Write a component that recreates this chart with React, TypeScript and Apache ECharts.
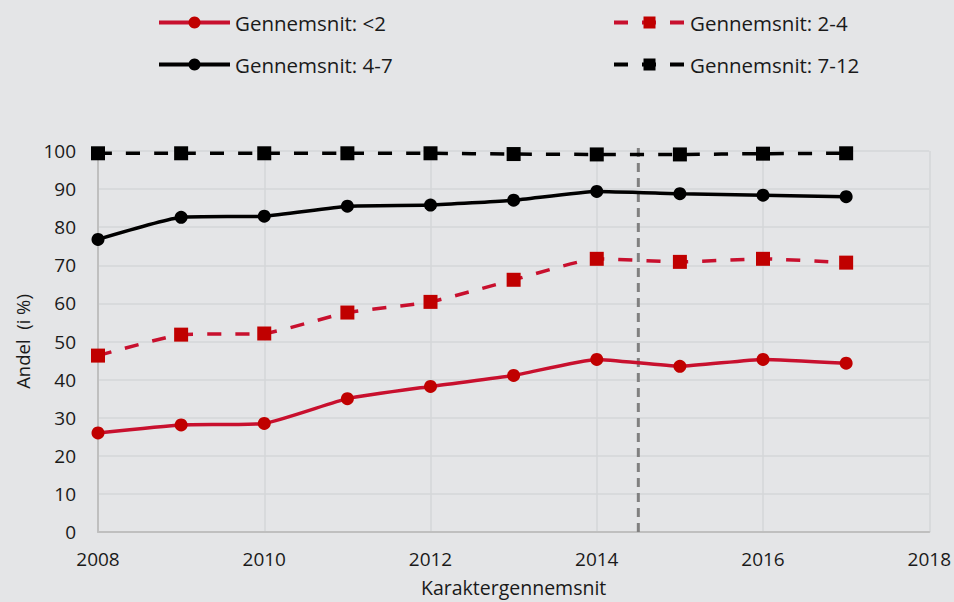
import React, { useEffect, useRef } from "react";
import * as echarts from "echarts";

const years = [2008, 2009, 2010, 2011, 2012, 2013, 2014, 2015, 2016, 2017];
const seriesNames = ["Gennemsnit: <2", "Gennemsnit: 2-4", "Gennemsnit: 4-7", "Gennemsnit: 7-12"];
const valsLt2 = [26.0, 28.1, 28.5, 35.0, 38.2, 41.1, 45.3, 43.5, 45.3, 44.3];
const vals2to4 = [46.3, 51.8, 52.1, 57.6, 60.4, 66.2, 71.7, 70.9, 71.7, 70.7];
const vals4to7 = [76.8, 82.6, 82.9, 85.5, 85.8, 87.1, 89.4, 88.8, 88.4, 88.0];
const vals7to12 = [99.4, 99.4, 99.4, 99.4, 99.4, 99.2, 99.1, 99.1, 99.3, 99.4];
const divider = [[2014.5, 0], [2014.5, 102]];

const FONT = "'Open Sans', 'Noto Sans', sans-serif";
const RED = "#c8102e";
const RED_M = "#c00000";
const BLACK = "#000000";
const TXT = "#1a1a1a";

export default function App() {
  const ref = useRef<HTMLDivElement>(null);
  useEffect(() => {
    if (!ref.current) return;
    const chart = echarts.init(ref.current, undefined, { renderer: "svg" });
    const pair = (vals: number[]) => years.map((y, i) => [y, vals[i]]);
    const mkLegend = (name: string, left: number, top: number) => ({
      data: [name],
      left,
      top,
      orient: "horizontal",
      itemWidth: 71,
      itemHeight: 15,
      itemGap: 0,
      padding: 0,
      lineStyle: { width: 4, inactiveWidth: 4 },
      textStyle: { fontFamily: FONT, fontSize: 20.5, color: TXT, padding: [0, 0, 0, 0] },
      selectedMode: false,
    });
    chart.setOption({
      animation: false,
      backgroundColor: "#e4e5e7",
      legend: [
        mkLegend(seriesNames[0], 157, 12),
        mkLegend(seriesNames[1], 612, 12),
        mkLegend(seriesNames[2], 157, 54),
        mkLegend(seriesNames[3], 612, 54),
      ],
      grid: { left: 98, right: 24, top: 151, bottom: 66, containLabel: false },
      xAxis: {
        type: "value",
        min: 2008,
        max: 2018,
        interval: 2,
        name: "Karaktergennemsnit",
        nameLocation: "middle",
        nameGap: 45,
        nameTextStyle: { fontFamily: FONT, fontSize: 19.5, color: TXT },
        axisLine: { lineStyle: { color: "#bfbfbf", width: 2 } },
        axisTick: { show: false },
        axisLabel: {
          fontFamily: FONT,
          fontSize: 19,
          color: TXT,
          margin: 17,
          formatter: (v: number) => String(v),
        },
        splitLine: { show: true, lineStyle: { color: "#d5d6d8", width: 1.5 } },
      },
      yAxis: {
        type: "value",
        min: 0,
        max: 100,
        interval: 10,
        name: "Andel  (i %)",
        nameLocation: "middle",
        nameGap: 66,
        nameRotate: 90,
        nameTextStyle: { fontFamily: FONT, fontSize: 18.5, color: TXT },
        axisLine: { show: true, lineStyle: { color: "#bfbfbf", width: 2 } },
        axisTick: { show: false },
        axisLabel: { fontFamily: FONT, fontSize: 19, color: TXT, margin: 22 },
        splitLine: { show: true, lineStyle: { color: "#d5d6d8", width: 1.5 } },
      },
      series: [
        {
          name: seriesNames[0],
          type: "line",
          data: pair(valsLt2),
          smooth: 0.15,
          symbol: "circle",
          symbolSize: 13,
          itemStyle: { color: RED_M },
          lineStyle: { color: RED, width: 3.5 },
          z: 4,
        },
        {
          name: seriesNames[1],
          type: "line",
          data: pair(vals2to4),
          smooth: 0.15,
          symbol: "rect",
          symbolSize: 14,
          itemStyle: { color: RED_M },
          lineStyle: { color: RED, width: 3.5, type: [14, 14] },
          z: 4,
        },
        {
          name: seriesNames[2],
          type: "line",
          data: pair(vals4to7),
          smooth: 0.15,
          symbol: "circle",
          symbolSize: 13,
          itemStyle: { color: BLACK },
          lineStyle: { color: BLACK, width: 3.5 },
          z: 4,
        },
        {
          name: seriesNames[3],
          type: "line",
          data: pair(vals7to12),
          smooth: 0.15,
          symbol: "rect",
          symbolSize: 14,
          itemStyle: { color: BLACK },
          lineStyle: { color: BLACK, width: 3.5, type: [14, 14] },
          z: 4,
        },
        {
          name: "divider",
          type: "line",
          data: divider,
          symbol: "none",
          clip: false,
          silent: true,
          lineStyle: { color: "#808080", width: 3, type: [9, 6] },
          z: 3,
        },
      ],
    });
    return () => chart.dispose();
  }, []);
  return <div ref={ref} style={{ width: 954, height: 602, position: "absolute", left: 0, top: 0 }} />;
}
